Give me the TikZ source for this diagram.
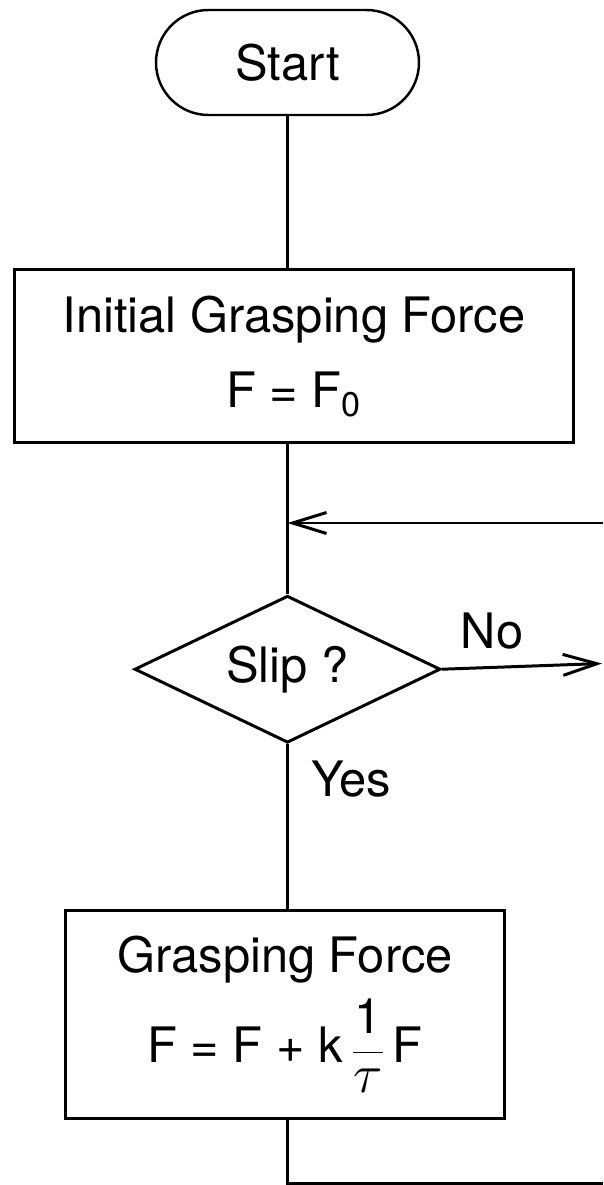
\documentclass[tikz,border=0pt]{standalone}
\usepackage{fontspec}
\setmainfont{TeX Gyre Heros}
\usetikzlibrary{positioning,arrows.meta,shapes.geometric}

\begin{document}
\begin{tikzpicture}[
  font=\fontsize{27.8}{42.7}\selectfont,
  line width=1.7pt,
  terminal/.style={draw, line width=1.4pt, rounded corners=1.05cm, minimum width=5.26cm, minimum height=2.1cm},
  block/.style={draw, align=center, inner sep=0pt},
  decision/.style={draw, diamond, aspect=2, inner sep=0pt, minimum width=6.12cm, minimum height=2.94cm},
  arr/.style={-{Straight Barb[length=0.68cm, width=0.42cm]}},
  lbl/.style={inner sep=0pt}
]
\useasboundingbox (0,0) rectangle (12.06,-23.7);

% nodes
\node[terminal] (start) at (5.75,-1.25) {Start};

\node[block, minimum width=11.18cm, minimum height=3.46cm,
      below=3.04cm of start, xshift=0.13cm] (init)
  {Initial Grasping Force\\F = F\textsubscript{0}};

\node[decision, below=3cm of init, xshift=-0.13cm] (slip) {Slip ?};
\node[lbl, above right=0.37cm and 0.35cm of slip.east] (no) {No};
\node[lbl, below right=0.3cm and 0.45cm of slip.south] (yes) {Yes};

\node[block, minimum width=8.78cm, minimum height=4.16cm,
      below=3.3cm of slip, xshift=-0.05cm] (update)
  {Grasping Force\\[0.3cm]F = F + k\,$\displaystyle\frac{\mbox{1}}{\mbox{\scalebox{1.25}{$\tau$}}}$\,F};

% loose ends at the right border
\coordinate (loopin) at (12.06,-10.46);
\coordinate (noout) at (12.04,-13.27);
\coordinate (out) at (12.06,-23.66);

% connectors
\draw (start) -- (start |- init.north);
\draw (slip |- init.south) -- (slip.north);
\draw[arr] (loopin) -- (loopin -| slip);
\draw[arr] (slip.east) -- (noout);
\draw (slip.south) -- (slip |- update.north);
\draw (slip |- update.south) |- (out);

\end{tikzpicture}
\end{document}
